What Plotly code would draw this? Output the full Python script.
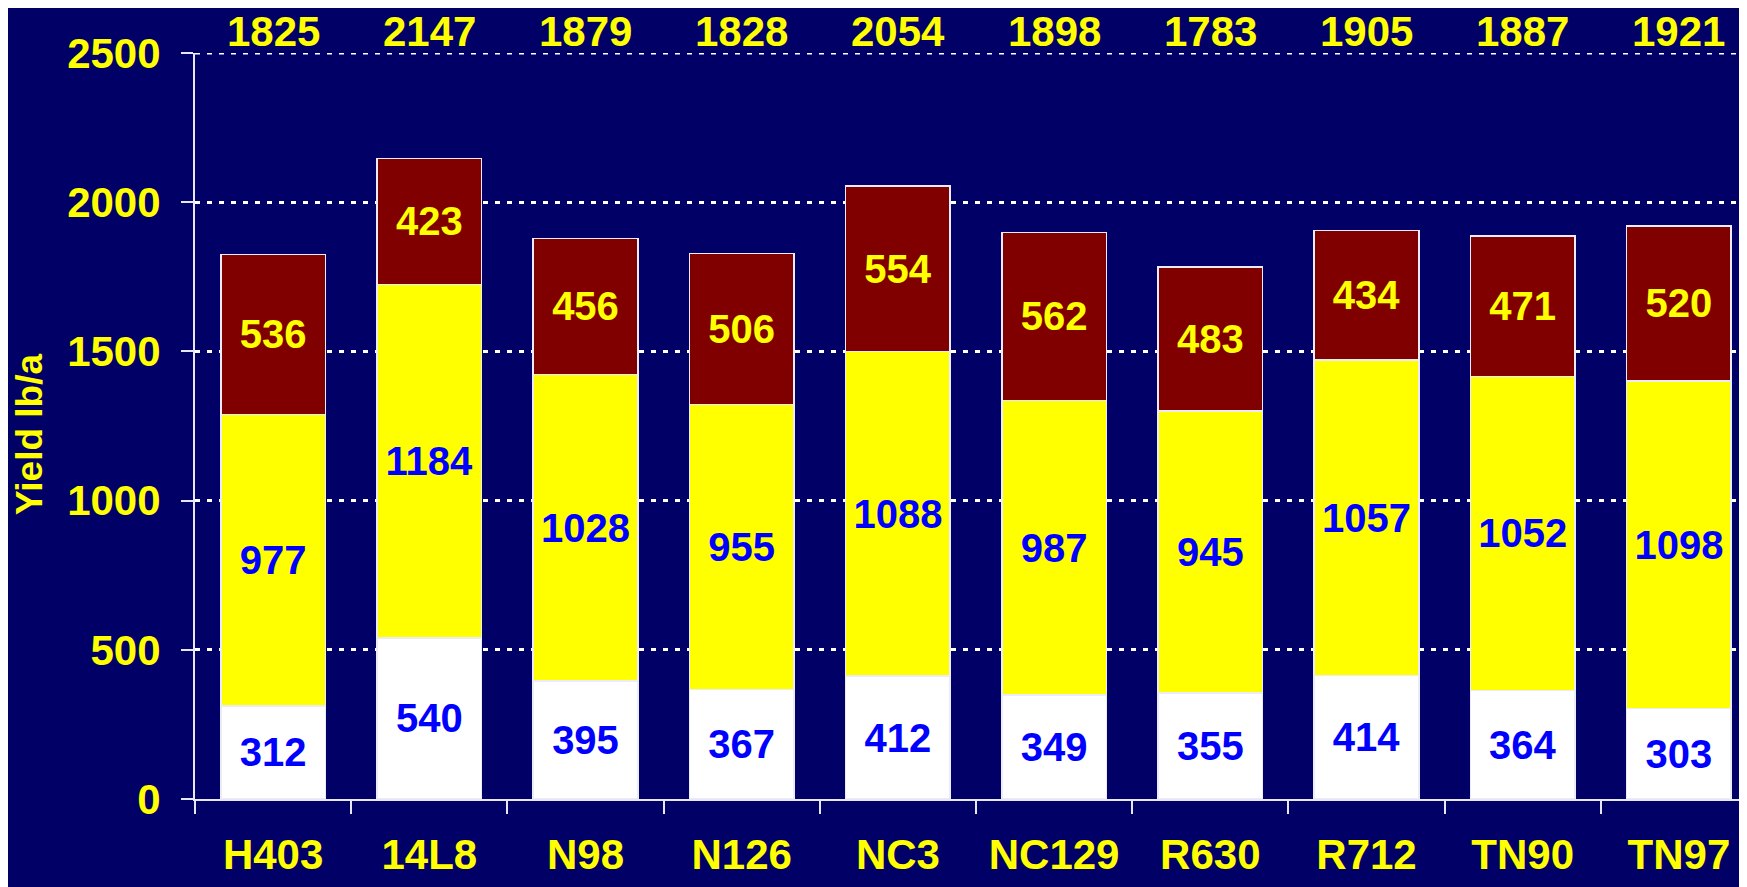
import plotly.graph_objects as go

# cultivars and yield components (lb/a)
cultivars = ["H403", "14L8", "N98", "N126", "NC3", "NC129", "R630", "R712", "TN90", "TN97"]
lower = [312, 540, 395, 367, 412, 349, 355, 414, 364, 303]
middle = [977, 1184, 1028, 955, 1088, 987, 945, 1057, 1052, 1098]
upper = [536, 423, 456, 506, 554, 562, 483, 434, 471, 520]
totals = [1825, 2147, 1879, 1828, 2054, 1898, 1783, 1905, 1887, 1921]
y_ticks = [0, 500, 1000, 1500, 2000, 2500]

NAVY = "#000066"
FONT = "Liberation Sans, Arial, sans-serif"
GRID_DASH = "5px,7px"

fig = go.Figure()

segments = [
    (lower, "#ffffff", "#0000ff"),
    (middle, "#ffff00", "#0000ff"),
    (upper, "#800000", "#ffff00"),
]
for vals, fill, txt in segments:
    fig.add_trace(go.Bar(
        x=cultivars,
        y=vals,
        marker=dict(color=fill, line=dict(color="#ececf8", width=1.5)),
        text=vals,
        texttemplate="%{text}",
        textposition="inside",
        insidetextanchor="middle",
        textangle=0,
        textfont=dict(family=FONT, size=40, color=txt, weight="bold"),
        showlegend=False,
        hoverinfo="x+y",
    ))

# totals row above the plot
for c, t in zip(cultivars, totals):
    fig.add_annotation(
        x=c, y=1, xref="x", yref="paper",
        text=str(t), showarrow=False,
        yanchor="middle", yshift=22,
        font=dict(family=FONT, size=42, color="#ffff00", weight="bold"),
    )

# y axis title
fig.add_annotation(
    x=(29 - 195) / 1552, y=(799 - 435) / 746, xref="paper", yref="paper",
    text="Yield lb/a", textangle=-90, showarrow=False,
    xanchor="center", yanchor="middle",
    font=dict(family=FONT, size=37, color="#ffff00", weight="bold"),
)

# top gridline (plotly skips the one on the range edge)
fig.add_shape(
    type="line", xref="paper", yref="y", x0=0, x1=1, y0=2500, y1=2500,
    line=dict(color="#ffffff", width=3, dash=GRID_DASH), layer="below",
)

# page body has an 8px margin, so the figure is 8px smaller than the window
fig.update_layout(
    barmode="stack",
    bargap=0.33,
    width=1739,
    height=879,
    margin=dict(l=187, r=0, t=45, b=88),
    paper_bgcolor=NAVY,
    plot_bgcolor=NAVY,
    font=dict(family=FONT),
)

fig.update_xaxes(
    range=[-0.5, 9.436],
    showline=True, linecolor="#e6e6f5", linewidth=2,
    ticks="outside", tickson="boundaries", ticklen=13, tickwidth=2, tickcolor="#e6e6f5",
    tickfont=dict(family=FONT, size=42, color="#ffff00", weight="bold"),
    ticklabelstandoff=18,
    showgrid=False,
)

fig.update_yaxes(
    range=[0, 2500],
    tickvals=y_ticks,
    showline=True, linecolor="#e6e6f5", linewidth=2,
    ticks="outside", ticklen=12, tickwidth=2, tickcolor="#e6e6f5",
    tickfont=dict(family=FONT, size=42, color="#ffff00", weight="bold"),
    ticklabelstandoff=12,
    showgrid=True, gridcolor="#ffffff", gridwidth=3, griddash=GRID_DASH,
    zeroline=False,
)

fig.write_html("out.html")
